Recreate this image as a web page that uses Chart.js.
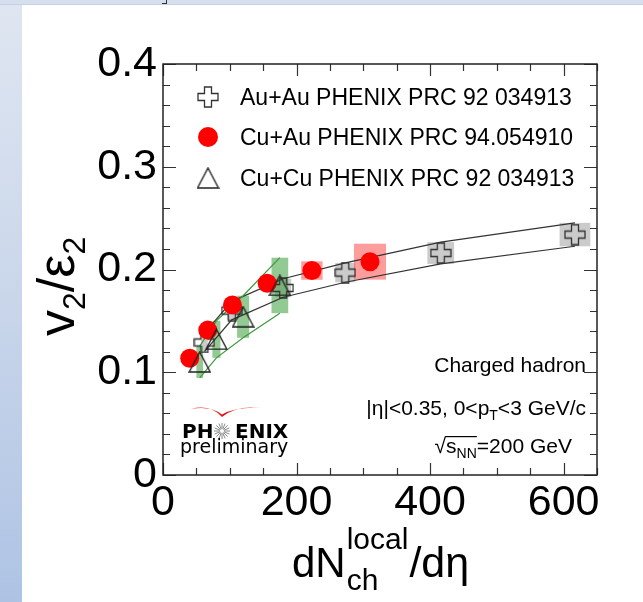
<!DOCTYPE html>
<html>
<head>
<meta charset="utf-8">
<script src="https://cdn.jsdelivr.net/npm/chart.js@4.4.1/dist/chart.umd.min.js"></script>
<style>
  html, body { margin: 0; padding: 0; background: #fff; }
  #wrap { position: relative; width: 643px; height: 602px; overflow: hidden; background: #fff; }
  #side { position: absolute; left: 0; top: 0; width: 22px; height: 602px;
          background: linear-gradient(to bottom, #dfe6f1, #c9d6ea 50%, #aec3e4); }
  #topbar { position: absolute; left: 0; top: 0; width: 643px; height: 4px; background: #d5dfee;
            border-bottom: 1px solid #c4d1e6; }
  #mark { position: absolute; left: 162px; top: 0; width: 4px; height: 3px;
          border-right: 1px solid #333; border-bottom: 1px solid #333; }
  canvas { position: absolute; left: 0; top: 0; }
</style>
</head>
<body>
<div id="wrap">
  <div id="side"></div>
  <div id="topbar"></div>
  <div id="mark"></div>
  <canvas id="chart" width="643" height="602"></canvas>
</div>
<script>
// Au+Au PHENIX PRC 92 034913 (open crosses, grey sys boxes)
const auauX   = [62, 103, 180, 273, 416, 617];
const auauY   = [0.129, 0.160, 0.182, 0.197, 0.216, 0.234];
const auauSys = [0.009, 0.009, 0.009, 0.0094, 0.0106, 0.0114];
const auauXw  = [5, 7, 12, 15, 20, 23];

// Cu+Au PHENIX PRC 94.054910 (red circles, pink sys boxes)
const cuauX   = [40, 67, 104, 156, 223, 310];
const cuauY   = [0.1136, 0.141, 0.1655, 0.1866, 0.199, 0.2076];
const cuauSys = [0.004, 0.005, 0.006, 0.007, 0.009, 0.0175];
const cuauXw  = [3, 4, 7, 10, 16, 24];

// Cu+Cu PHENIX PRC 92 034913 (open triangles, green sys boxes)
const cucuX   = [55, 80, 120, 175];
const cucuY   = [0.110, 0.132, 0.154, 0.1845];
const cucuSys = [0.0155, 0.018, 0.0205, 0.027];
const cucuXw  = [5, 6, 9, 12.5];

const xTicks = [0, 200, 400, 600];
const yTicks = [0, 0.1, 0.2, 0.3, 0.4];

const legendLabels = ['Au+Au PHENIX PRC 92 034913', 'Cu+Au PHENIX PRC 94.054910', 'Cu+Cu PHENIX PRC 92 034913'];

const FONT = '"Liberation Sans", Arial, Helvetica, sans-serif';
const LOGO_FONT = '"DejaVu Sans", Verdana, sans-serif';

const pts = (xs, ys) => xs.map((x, i) => ({x: x, y: ys[i]}));
const shifted = (xs, ys, d, s) => xs.map((x, i) => ({x: x, y: ys[i] + s * d[i]}));

// open cross marker
function makeCross(size, arm, color) {
    const c = document.createElement('canvas');
    c.width = c.height = size + 2;
    const g = c.getContext('2d');
    const m = (size + 2) / 2, h = size / 2, a = arm / 2;
    g.beginPath();
    g.moveTo(m - a, m - h); g.lineTo(m + a, m - h); g.lineTo(m + a, m - a);
    g.lineTo(m + h, m - a); g.lineTo(m + h, m + a); g.lineTo(m + a, m + a);
    g.lineTo(m + a, m + h); g.lineTo(m - a, m + h); g.lineTo(m - a, m + a);
    g.lineTo(m - h, m + a); g.lineTo(m - h, m - a); g.lineTo(m - a, m - a);
    g.closePath();
    g.lineWidth = 1.3; g.strokeStyle = color; g.stroke();
    return c;
}

// open triangle marker, box-centred like ROOT
function makeTriangle(w, h, color) {
    const c = document.createElement('canvas');
    c.width = w + 2; c.height = h + 2;
    const g = c.getContext('2d');
    g.beginPath();
    g.moveTo(1 + w / 2, 1); g.lineTo(1 + w, 1 + h); g.lineTo(1, 1 + h);
    g.closePath();
    g.lineWidth = 1.4; g.strokeStyle = color; g.stroke();
    return c;
}

const crossImg = makeCross(20, 7, '#333');
const triImg = makeTriangle(21, 20, '#222');

// systematic boxes
const boxes = [
    {xs: auauX, ys: auauY, dy: auauSys, dx: auauXw, color: 'rgba(160,160,160,0.55)'},
    {xs: cuauX, ys: cuauY, dy: cuauSys, dx: cuauXw, color: 'rgba(255,60,60,0.5)'},
    {xs: cucuX, ys: cucuY, dy: cucuSys, dx: cucuXw, color: 'rgba(40,150,40,0.5)'}
];

const boxPlugin = {
    id: 'sysBoxes',
    beforeDatasetsDraw(chart) {
        const {ctx, chartArea, scales: {x, y}} = chart;
        ctx.save();
        ctx.beginPath();
        ctx.rect(chartArea.left, chartArea.top, chartArea.right - chartArea.left, chartArea.bottom - chartArea.top);
        ctx.clip();
        boxes.forEach(b => {
            ctx.fillStyle = b.color;
            b.xs.forEach((xv, i) => {
                const l = x.getPixelForValue(xv - b.dx[i]);
                const r = x.getPixelForValue(xv + b.dx[i]);
                const t = y.getPixelForValue(b.ys[i] + b.dy[i]);
                const btm = y.getPixelForValue(b.ys[i] - b.dy[i]);
                ctx.fillRect(l, t, r - l, btm - t);
            });
        });
        ctx.restore();
    }
};

// frame with inward ticks on all four sides
const framePlugin = {
    id: 'frame',
    afterDatasetsDraw(chart) {
        const {ctx, chartArea: a, scales: {x, y}} = chart;
        ctx.save();
        ctx.strokeStyle = '#333';
        ctx.lineWidth = 1.2;
        ctx.beginPath();
        for (let v = 0; v <= 650; v += 50) {
            const px = Math.round(x.getPixelForValue(v)) + 0.5;
            const len = v % 200 === 0 ? 12 : 7;
            ctx.moveTo(px, a.bottom); ctx.lineTo(px, a.bottom - len);
            ctx.moveTo(px, a.top); ctx.lineTo(px, a.top + len);
        }
        for (let k = 0; k <= 20; k++) {
            const v = k * 0.02;
            const py = Math.round(y.getPixelForValue(v)) + 0.5;
            const len = k % 5 === 0 ? 13 : 7;
            ctx.moveTo(a.left, py); ctx.lineTo(a.left + len, py);
            ctx.moveTo(a.right, py); ctx.lineTo(a.right - len, py);
        }
        ctx.stroke();
        ctx.lineWidth = 1.5;
        ctx.strokeStyle = '#222';
        ctx.strokeRect(a.left, a.top, a.right - a.left, a.bottom - a.top);
        ctx.restore();
    }
};

function drawPieces(ctx, pieces, x, y) {
    // pieces: [text, size, dy]
    pieces.forEach(p => {
        ctx.font = p[1] + 'px ' + FONT;
        ctx.fillText(p[0], x, y + p[2]);
        x += ctx.measureText(p[0]).width;
    });
    return x;
}
function piecesWidth(ctx, pieces) {
    let w = 0;
    pieces.forEach(p => {
        ctx.font = p[1] + 'px ' + FONT;
        w += ctx.measureText(p[0]).width;
    });
    return w;
}

const textPlugin = {
    id: 'texts',
    afterDraw(chart) {
        const ctx = chart.ctx;
        ctx.save();
        ctx.fillStyle = '#000';
        ctx.textBaseline = 'alphabetic';
        ctx.textAlign = 'left';

        // legend
        const rows = [97, 137, 178];
        ctx.drawImage(crossImg, 208 - crossImg.width / 2, rows[0] - crossImg.height / 2);
        ctx.fillStyle = '#ff0000';
        ctx.beginPath(); ctx.arc(208, rows[1], 10, 0, Math.PI * 2); ctx.fill();
        ctx.drawImage(triImg, 208 - triImg.width / 2, rows[2] - triImg.height / 2);
        ctx.fillStyle = '#000';
        ctx.font = '23px ' + FONT;
        legendLabels.forEach((t, i) => ctx.fillText(t, 240, rows[i] + 8));

        // annotations
        ctx.font = '21px ' + FONT;
        ctx.textAlign = 'right';
        ctx.fillText('Charged hadron', 586, 372);
        ctx.textAlign = 'left';
        const line2 = [['|η|<0.35, 0<p', 21, 0], ['T', 14, 5], ['<3 GeV/c', 21, 0]];
        drawPieces(ctx, line2, 586 - piecesWidth(ctx, line2), 415);

        const line3a = [['√', 21, 0]];
        const line3b = [['s', 21, 0], ['NN', 14, 5]];
        const line3c = [['=200 GeV', 21, 0]];
        const w3 = piecesWidth(ctx, line3a) + piecesWidth(ctx, line3b) + piecesWidth(ctx, line3c);
        let x3 = 572 - w3;
        x3 = drawPieces(ctx, line3a, x3, 453);
        const sx = x3;
        x3 = drawPieces(ctx, line3b, x3, 453);
        ctx.fillRect(sx - 1, 436, x3 - sx + 1, 1.2);
        drawPieces(ctx, line3c, x3, 453);

        // PHENIX preliminary logo
        ctx.font = 'bold 20px ' + LOGO_FONT;
        ctx.fillText('PH', 182, 438);
        ctx.fillText('ENIX', 235, 438);
        ctx.strokeStyle = '#888';
        ctx.lineWidth = 1;
        ctx.beginPath();
        for (let k = 0; k < 16; k++) {
            const ang = k * Math.PI / 8;
            ctx.moveTo(222 + Math.cos(ang) * 2, 431 + Math.sin(ang) * 2);
            ctx.lineTo(222 + Math.cos(ang) * 8, 431 + Math.sin(ang) * 8);
        }
        ctx.stroke();
        ctx.fillStyle = '#e01818';
        ctx.beginPath();
        ctx.moveTo(191, 409);
        ctx.quadraticCurveTo(210, 404, 222, 417);
        ctx.quadraticCurveTo(236, 405, 261, 408);
        ctx.quadraticCurveTo(236, 406.5, 222, 414.5);
        ctx.quadraticCurveTo(210, 405.5, 191, 409);
        ctx.fill();
        ctx.fillStyle = '#000';
        ctx.font = '19px ' + LOGO_FONT;
        ctx.fillText('preliminary', 180, 453);

        // x axis title
        let xt = 292;
        ctx.font = '42px ' + FONT;
        ctx.fillText('dN', xt, 577);
        xt += ctx.measureText('dN').width + 1;
        ctx.font = '30px ' + FONT;
        ctx.fillText('local', xt, 549);
        const wl = ctx.measureText('local').width;
        ctx.fillText('ch', xt, 590);
        xt += wl + 1;
        ctx.font = '43px ' + FONT;
        ctx.fillText('/dη', xt, 577);

        // y axis title, rotated
        ctx.translate(74, 336);
        ctx.rotate(-Math.PI / 2);
        const yt = [['v', 52, 0], ['2', 32, 11], ['/', 52, 0], ['ε', 52, 0], ['2', 32, 11]];
        drawPieces(ctx, yt, 0, 0);
        ctx.restore();
    }
};

const ctx = document.getElementById('chart').getContext('2d');
new Chart(ctx, {
    type: 'scatter',
    data: {
        datasets: [
            {label: 'Cu+Cu', data: pts(cucuX, cucuY), pointStyle: triImg, pointRadius: 10, order: 0},
            {label: 'Cu+Au', data: pts(cuauX, cuauY), pointStyle: 'circle', pointRadius: 9.5,
             backgroundColor: '#ff0000', borderWidth: 0, order: 1},
            {label: 'Au+Au', data: pts(auauX, auauY), pointStyle: crossImg, pointRadius: 10, order: 2},
            {data: shifted(cucuX, cucuY, cucuSys, 1), showLine: true, pointRadius: 0, borderColor: '#3a9a3a', borderWidth: 1.2, order: 3},
            {data: shifted(cucuX, cucuY, cucuSys, -1), showLine: true, pointRadius: 0, borderColor: '#3a9a3a', borderWidth: 1.2, order: 3},
            {data: shifted(auauX, auauY, auauSys, 1), showLine: true, pointRadius: 0, borderColor: '#333', borderWidth: 1.2, order: 4},
            {data: shifted(auauX, auauY, auauSys, -1), showLine: true, pointRadius: 0, borderColor: '#333', borderWidth: 1.2, order: 4}
        ]
    },
    options: {
        responsive: false,
        animation: false,
        layout: {padding: {top: 64, right: 46, left: 0, bottom: 0}},
        plugins: {legend: {display: false}, tooltip: {enabled: false}},
        scales: {
            x: {
                type: 'linear', min: 0, max: 650,
                grid: {display: false, drawTicks: false},
                border: {display: false},
                ticks: {
                    stepSize: 200, includeBounds: false, padding: 2, maxRotation: 0, color: '#000',
                    font: {family: FONT, size: 43},
                    callback: v => xTicks.includes(v) ? String(v) : ''
                },
                afterFit: s => { s.height = 127; }
            },
            y: {
                type: 'linear', min: 0, max: 0.4,
                grid: {display: false, drawTicks: false},
                border: {display: false},
                ticks: {
                    stepSize: 0.1, includeBounds: false, padding: 6, color: '#000',
                    font: {family: FONT, size: 43},
                    callback: v => {
                        const t = yTicks.find(k => Math.abs(k - v) < 1e-6);
                        return t === undefined ? '' : (t === 0 ? '0' : t.toFixed(1));
                    }
                },
                afterFit: s => { s.width = 163; }
            }
        }
    },
    plugins: [boxPlugin, framePlugin, textPlugin]
});
</script>
</body>
</html>
